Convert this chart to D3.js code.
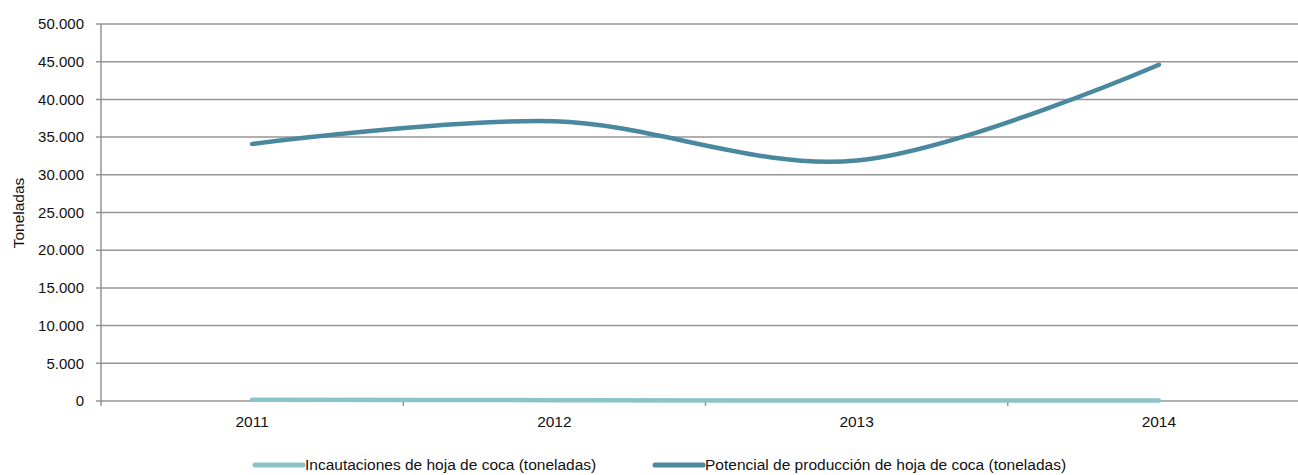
<!DOCTYPE html>
<html><head><meta charset="utf-8">
<script src="https://cdn.jsdelivr.net/npm/d3@7"></script>
<style>
body{margin:0;background:#fff;}
svg{display:block;font-family:"Liberation Sans",Arial,sans-serif;}
</style></head>
<body>
<svg id="chart" width="1298" height="475"></svg>
<script>
const years = ["2011","2012","2013","2014"];
const incautaciones = [180, 110, 60, 50];
const potencial = [34100, 37100, 31900, 44600];
const yTicks = [0,5000,10000,15000,20000,25000,30000,35000,40000,45000,50000];
const seriesNames = ["Incautaciones de hoja de coca (toneladas)","Potencial de producción de hoja de coca (toneladas)"];
const colors = ["#8cc4c6","#4a88a0"];

const svg = d3.select("#chart");
const x0 = 101, x1 = 1310, yTop = 24, yBot = 401;
const x = d3.scaleBand().domain(years).range([x0, x1]);
const y = d3.scaleLinear().domain([0, 50000]).range([yBot, yTop]);
const fmt = v => d3.format(",")(v).replace(/,/g, ".");

// grid lines
svg.append("g").selectAll("line").data(yTicks).join("line")
  .attr("x1", x0 - 5).attr("x2", 1298)
  .attr("y1", d => y(d)).attr("y2", d => y(d))
  .attr("stroke", "#959595").attr("stroke-width", 1.5);

// y axis labels
svg.append("g").selectAll("text").data(yTicks).join("text")
  .attr("x", 84).attr("y", d => y(d)).attr("dy", "0.35em")
  .attr("text-anchor", "end").attr("font-size", 15).attr("fill", "#111")
  .text(fmt);

// y axis line
svg.append("line").attr("x1", x0).attr("x2", x0).attr("y1", yTop).attr("y2", yBot + 5)
  .attr("stroke", "#959595").attr("stroke-width", 1.5);

// x tick marks at band boundaries
const bounds = years.slice(1).map(d => x(d));
svg.append("g").selectAll("line").data(bounds).join("line")
  .attr("x1", d => d).attr("x2", d => d).attr("y1", yBot).attr("y2", yBot + 5)
  .attr("stroke", "#959595").attr("stroke-width", 1.5);

// x labels
svg.append("g").selectAll("text").data(years).join("text")
  .attr("x", d => x(d) + x.bandwidth() / 2).attr("y", 427)
  .attr("text-anchor", "middle").attr("font-size", 15.5).attr("fill", "#111")
  .text(d => d);

// y title
svg.append("text").attr("transform", "translate(24,213) rotate(-90)")
  .attr("text-anchor", "middle").attr("font-size", 15.5).attr("fill", "#111")
  .text("Toneladas");

// lines
const line = d3.line()
  .x((d, i) => x(years[i]) + x.bandwidth() / 2)
  .y(d => y(d))
  .curve(d3.curveCatmullRom.alpha(0));
[incautaciones, potencial].forEach((s, i) => {
  svg.append("path").datum(s).attr("d", line)
    .attr("fill", "none").attr("stroke", colors[i]).attr("stroke-width", 4.5)
    .attr("stroke-linecap", "round");
});

// legend
const legendX = [255, 655];
seriesNames.forEach((n, i) => {
  const g = svg.append("g").attr("transform", `translate(${legendX[i]},465)`);
  g.append("line").attr("x1", 0).attr("x2", 48).attr("y1", 0).attr("y2", 0)
    .attr("stroke", colors[i]).attr("stroke-width", 5).attr("stroke-linecap", "round");
  g.append("text").attr("x", 50).attr("y", 0).attr("dy", "0.35em")
    .attr("font-size", 15.5).attr("fill", "#111").text(n);
});
</script>
</body></html>
